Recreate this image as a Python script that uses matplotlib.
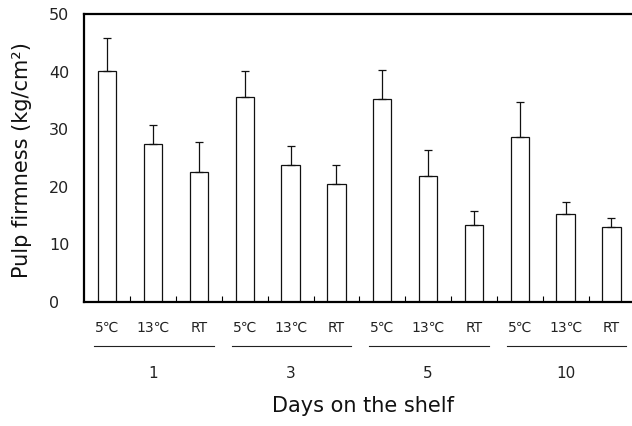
import matplotlib
matplotlib.use("Agg")
import matplotlib.pyplot as plt
import numpy as np

plt.rcParams['font.family'] = ['DejaVu Sans', 'Noto Sans CJK KR']

# data
days = ['1', '3', '5', '10']
temps = ['5℃', '13℃', 'RT']
firmness = [40.1, 27.5, 22.5, 35.6, 23.8, 20.4, 35.3, 21.8, 13.4, 28.7, 15.2, 13.0]
sd = [5.7, 3.2, 5.3, 4.5, 3.3, 3.4, 5.0, 4.6, 2.4, 6.1, 2.2, 1.6]

fig = plt.figure(figsize=(6.32, 4.26), dpi=100)
ax = fig.add_axes([0.1334, 0.2918, 0.8704, 0.6746])

x = np.arange(len(firmness))
ax.bar(x, firmness, width=0.40, color='white', edgecolor='#111111', linewidth=0.9, zorder=2)
# only the upper half of the error bar is drawn
ax.errorbar(x, firmness, yerr=[np.zeros(len(sd)), sd], fmt='none', ecolor='#111111',
            elinewidth=0.9, capsize=2.9, capthick=0.9, zorder=3)

ax.set_xlim(-0.5, len(firmness) - 0.5)
ax.set_ylim(0, 50)
ax.set_yticks(range(0, 51, 10))

# small inward ticks between the bars
ax.set_xticks(np.arange(0.5, len(firmness) - 1, 1.0))
ax.set_xticklabels([])
ax.tick_params(axis='x', direction='in', length=4.5, width=0.8)
ax.tick_params(axis='y', length=0, pad=25.4, labelsize=11.5, labelcolor='#222222')
for lab in ax.get_yticklabels():
    lab.set_horizontalalignment('left')

for side in ['left', 'bottom', 'top']:
    ax.spines[side].set_linewidth(1.6)
ax.spines['right'].set_visible(False)

# category labels under the axis, one row of temperatures and one of days
trans = ax.get_xaxis_transform()
for i, d in enumerate(days):
    for j, t in enumerate(temps):
        ax.text(i * 3 + j, -0.0915, t, transform=trans, ha='center', va='center',
                fontsize=10, color='#222222', clip_on=False)
    ax.plot([i * 3 - 0.28, i * 3 + 2.32], [-0.154, -0.154], transform=trans,
            color='#222222', linewidth=0.8, clip_on=False)
    ax.text(i * 3 + 1, -0.2516, d, transform=trans, ha='center', va='center',
            fontsize=11, color='#222222', clip_on=False)

fig.text(363 / 632, 1 - 406 / 426, 'Days on the shelf', ha='center', va='center',
         fontsize=15, color='#111111')
fig.text(22 / 632, 1 - 160 / 426, 'Pulp firmness (kg/cm²)', ha='center', va='center',
         rotation=90, fontsize=15, color='#111111')

fig.savefig('out.png', dpi=100)
